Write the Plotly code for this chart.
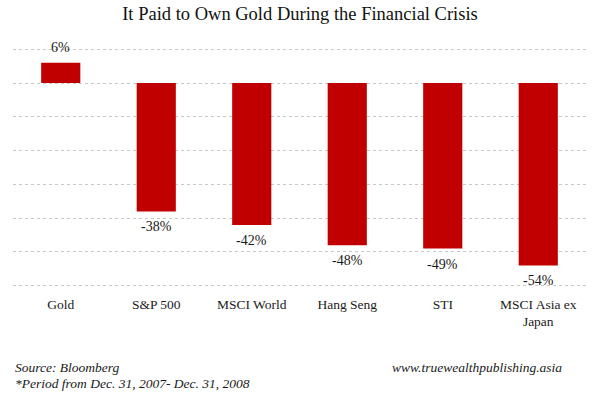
import plotly.graph_objects as go

categories = ["Gold", "S&P 500", "MSCI World", "Hang Seng", "STI", "MSCI Asia ex<br>Japan"]
returns = [6, -38, -42, -48, -49, -54]
labels = ["6%", "-38%", "-42%", "-48%", "-49%", "-54%"]
y_ticks = [10, 0, -10, -20, -30, -40, -50, -60]

FONT = "Liberation Serif"

fig = go.Figure()
fig.add_trace(go.Bar(
    x=categories, y=returns, marker=dict(color="#C00000", line=dict(width=0)),
    hoverinfo="skip",
))

for c, v, t in zip(categories, returns, labels):
    fig.add_annotation(
        x=c, y=v, text=t, showarrow=False,
        yanchor="bottom" if v >= 0 else "top",
        yshift=6 if v >= 0 else -6,
        font=dict(family=FONT, size=14, color="#1a1a1a"),
    )

fig.update_layout(
    width=600, height=399,
    margin=dict(l=13, r=14, t=48, b=112),
    paper_bgcolor="white", plot_bgcolor="white",
    bargap=0.59,
    showlegend=False,
    title=dict(text="It Paid to Own Gold During the Financial Crisis",
               x=0.5, xanchor="center", y=0.967, yanchor="middle",
               font=dict(family=FONT, size=18.5, color="#111111")),
    font=dict(family=FONT, size=13, color="#1a1a1a"),
)
fig.update_xaxes(showline=False, ticks="", tickfont=dict(family=FONT, size=13.5, color="#1a1a1a"),
                 ticklabelstandoff=7)
fig.update_yaxes(range=[-60.4, 10.4], tickvals=y_ticks, showticklabels=False,
                 showgrid=True, gridcolor="#c8c8c8", griddash="dot", gridwidth=1,
                 zeroline=False, showline=False)

fig.add_annotation(x=0.0, y=-0.335, xref="paper", yref="paper", xanchor="left", yanchor="middle",
                   text="<i>Source: Bloomberg</i>", showarrow=False, align="left",
                   font=dict(family=FONT, size=13.5, color="#1a1a1a"))
fig.add_annotation(x=0.0, y=-0.402, xref="paper", yref="paper", xanchor="left", yanchor="middle",
                   text="<i>*Period from Dec. 31, 2007- Dec. 31, 2008</i>", showarrow=False, align="left",
                   font=dict(family=FONT, size=13.5, color="#1a1a1a"))
fig.add_annotation(x=0.962, y=-0.335, xref="paper", yref="paper", xanchor="right", yanchor="middle",
                   text="<i>www.truewealthpublishing.asia</i>", showarrow=False,
                   font=dict(family=FONT, size=13.5, color="#1a1a1a"))

fig.write_html("out.html", config={"displayModeBar": False},
               post_script="document.body.style.margin='0';document.body.style.overflow='hidden';")
